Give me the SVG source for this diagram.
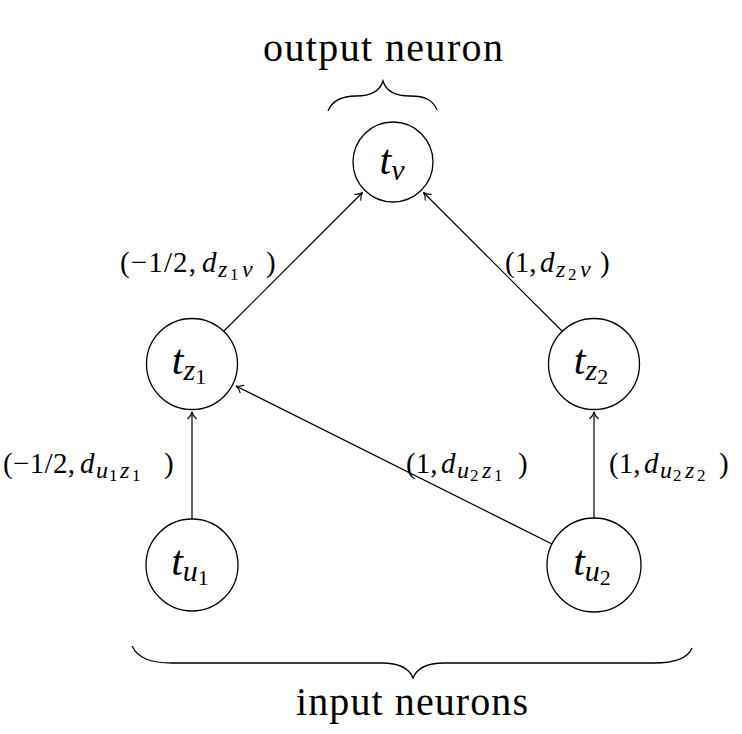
<svg xmlns="http://www.w3.org/2000/svg" width="742" height="734" viewBox="0 0 742 734">
<style>
  text { font-family: "Liberation Serif", "Times New Roman", serif; fill: #000; }
  .it { font-style: italic; }
  .node circle { fill: #fff; stroke: #000; stroke-width: 1.3; }
  .edge { fill: none; stroke: #000; stroke-width: 1.2; marker-end: url(#arr); }
  .brace { fill: none; stroke: #000; stroke-width: 1.3; }
  .big { font-size: 40px; }
  .lbl { font-size: 29px; }
  .s1 { font-size: 24px; font-style: italic; }
  .s2 { font-size: 17px; }
  .nl { font-size: 42px; font-style: italic; }
  .ns { font-size: 30px; font-style: italic; }
  .nss { font-size: 22px; }
</style>
<defs>
  <marker id="arr" markerUnits="userSpaceOnUse" markerWidth="14" markerHeight="14" refX="0" refY="0" viewBox="-10 -7 12 14" orient="auto">
    <path d="M-7,-4.5 C-5,-2 -2,-0.5 0,0 C-2,0.5 -5,2 -7,4.5" fill="none" stroke="#000" stroke-width="1.1"/>
  </marker>
</defs>

<g id="connectors">
  <line class="edge" x1="224" y1="331" x2="362.5" y2="192.5"/>
  <line class="edge" x1="562" y1="331" x2="423.5" y2="192.5"/>
  <line class="edge" x1="192" y1="519" x2="192" y2="412"/>
  <line class="edge" x1="594" y1="518" x2="594" y2="412"/>
  <line class="edge" x1="552" y1="544" x2="236" y2="386"/>
</g>

<g id="node-tv" class="node">
  <circle cx="393" cy="162" r="40"/>
  <text x="392" y="174" text-anchor="middle"><tspan class="nl">t</tspan><tspan class="ns" dy="6">v</tspan></text>
</g>
<g id="node-tz1" class="node">
  <circle cx="192" cy="364" r="45.5"/>
  <text x="189" y="374" text-anchor="middle"><tspan class="nl">t</tspan><tspan class="ns" dy="6">z</tspan><tspan class="nss" dy="4">1</tspan></text>
</g>
<g id="node-tz2" class="node">
  <circle cx="594" cy="364" r="45.5"/>
  <text x="591" y="374" text-anchor="middle"><tspan class="nl">t</tspan><tspan class="ns" dy="6">z</tspan><tspan class="nss" dy="4">2</tspan></text>
</g>
<g id="node-tu1" class="node">
  <circle cx="192" cy="565" r="46"/>
  <text x="190" y="575" text-anchor="middle"><tspan class="nl">t</tspan><tspan class="ns" dy="6">u</tspan><tspan class="nss" dy="4">1</tspan></text>
</g>
<g id="node-tu2" class="node">
  <circle cx="594" cy="565" r="47"/>
  <text x="592" y="575" text-anchor="middle"><tspan class="nl">t</tspan><tspan class="ns" dy="6">u</tspan><tspan class="nss" dy="4">2</tspan></text>
</g>

<g id="edge-labels">
  <text class="lbl" x="120" y="272"><tspan textLength="76">(−1/2,</tspan><tspan class="it" x="202">d</tspan><tspan class="s1" x="218" dy="5">z</tspan><tspan class="s2" x="230" dy="3">1</tspan><tspan class="s1" x="242" dy="-3">v</tspan><tspan x="266" dy="-5">)</tspan></text>
  <text class="lbl" x="505" y="272">(1,<tspan class="it" x="540">d</tspan><tspan class="s1" x="556" dy="5">z</tspan><tspan class="s2" x="568" dy="3">2</tspan><tspan class="s1" x="580" dy="-3">v</tspan><tspan x="600" dy="-5">)</tspan></text>
  <text class="lbl" x="3" y="473"><tspan textLength="72">(−1/2,</tspan><tspan class="it" x="80">d</tspan><tspan class="s1" x="96" dy="5">u</tspan><tspan class="s2" x="109" dy="3">1</tspan><tspan class="s1" x="120" dy="-3">z</tspan><tspan class="s2" x="132" dy="3">1</tspan><tspan x="164" dy="-8">)</tspan></text>
  <text class="lbl" x="406" y="473">(1,<tspan class="it" x="441">d</tspan><tspan class="s1" x="457" dy="5">u</tspan><tspan class="s2" x="470" dy="3">2</tspan><tspan class="s1" x="482" dy="-3">z</tspan><tspan class="s2" x="494" dy="3">1</tspan><tspan x="518" dy="-8">)</tspan></text>
  <text class="lbl" x="609" y="473">(1,<tspan class="it" x="644">d</tspan><tspan class="s1" x="660" dy="5">u</tspan><tspan class="s2" x="673" dy="3">2</tspan><tspan class="s1" x="685" dy="-3">z</tspan><tspan class="s2" x="697" dy="3">2</tspan><tspan x="719" dy="-8">)</tspan></text>
</g>

<g id="output-group">
  <text class="big" x="263" y="61" textLength="240">output neuron</text>
  <path class="brace" d="M328,111 C332,101 341,96 356,96 C372,96 380,91 383,81 C386,91 394,96 410,96 C425,96 433,100 437,110"/>
</g>
<g id="input-group">
  <path class="brace" d="M132,646 C138,658 150,663 172,663 L382,663 C399,663 409,668 413,678 C417,668 427,663 444,663 L654,663 C676,663 688,658 692,648"/>
  <text class="big" x="296" y="715" textLength="232">input neurons</text>
</g>
</svg>
